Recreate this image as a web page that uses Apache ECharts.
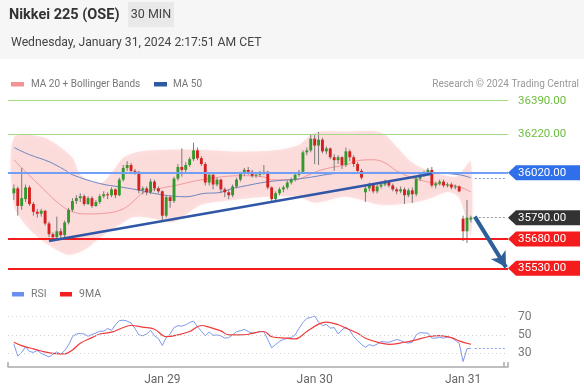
<!DOCTYPE html>
<html><head><meta charset="utf-8">
<script src="https://cdn.jsdelivr.net/npm/echarts@6/dist/echarts.min.js"></script>
<style>html,body{margin:0;padding:0;background:#fff}#c{width:584px;height:390px}</style>
</head><body><div id="c"></div>
<script>
const FONT = 'Roboto, "Liberation Sans", Arial, sans-serif';
const N_CAT = 128;
const dayTicks = [39, 78, 116];
const dayNames = ['Jan 29', 'Jan 30', 'Jan 31'];
const firstCandle = 1;
// [open, close, low, high]
const ohlc = [
[35915,35940,35880,35960],[35940,35850,35800,35950],[35850,35890,35830,36045],[35885,35945,35870,35960],[35945,35860,35850,35955],
[35860,35820,35800,35870],[35820,35810,35790,35835],[35810,35825,35795,35835],[35825,35760,35750,35830],[35760,35705,35690,35770],
[35705,35690,35672,35715],[35690,35720,35675,35795],[35720,35700,35680,35735],[35700,35765,35690,35775],[35765,35830,35755,35840],
[35830,35875,35820,35890],[35875,35890,35860,35905],[35890,35900,35870,35915],[35900,35860,35850,35910],[35860,35890,35855,35900],
[35890,35850,35840,35900],[35850,35870,35845,35880],[35870,35900,35860,35910],[35900,35910,35890,35925],[35910,35905,35885,35920],
[35905,35935,35895,35945],[35935,35905,35890,35940],[35905,35985,35900,35995],[35985,36045,35975,36060],[36045,36060,36030,36080],
[36060,36030,36015,36070],[36030,36025,36010,36040],[36025,35930,35915,36030],[35930,35940,35910,35950],[35940,35920,35905,35950],
[35920,35975,35910,35990],[35975,35940,35925,35985],[35940,35925,35915,35950],[35925,35800,35770,35930],[35800,35895,35790,35905],
[35895,35875,35840,35905],[35875,35990,35865,36000],[35990,36050,35980,36065],[36050,36035,36000,36145],[36035,36060,36020,36075],
[36060,36090,36050,36100],[36090,36135,36080,36175],[36135,36095,36085,36150],[36095,36065,36055,36105],[36065,35970,35955,36075],
[35970,36010,35955,36020],[36010,35960,35935,36020],[35960,35985,35950,35995],[35985,35935,35915,35990],[35935,35920,35895,35945],
[35920,35905,35885,35935],[35905,35950,35895,35960],[35950,35985,35940,35995],[35985,36015,35975,36025],[36015,36035,36005,36045],
[36035,36025,36010,36050],[36025,36005,35995,36035],[36005,36010,35995,36020],[36010,36020,36000,36030],[36020,36025,36010,36060],
[36025,35945,35935,36030],[35945,35885,35865,35950],[35885,35915,35875,35925],[35915,35935,35905,35945],[35935,35945,35920,35955],
[35945,35970,35935,35980],[35970,35985,35960,35995],[35985,36010,35975,36020],[36010,36025,36000,36035],[36025,36125,36015,36135],
[36125,36135,36110,36150],[36135,36195,36125,36215],[36195,36160,36065,36215],[36160,36190,36060,36230],[36190,36130,36120,36200],
[36130,36145,36115,36155],[36145,36100,36090,36150],[36100,36085,36030,36115],[36085,36100,36065,36110],[36100,36060,36040,36105],
[36060,36130,36050,36150],[36130,36100,36080,36140],[36100,36065,36050,36110],[36065,36030,36020,36075],[36030,35995,35985,36040],
[35920,35940,35870,35950],[35940,35960,35925,35970],[35960,35925,35915,35965],[35925,35950,35915,35960],[35950,35960,35940,35970],
[35960,35975,35950,35985],[35975,35955,35945,35980],[35955,35935,35925,35965],[35935,35925,35910,35945],[35925,35935,35915,35950],
[35935,35905,35860,35945],[35905,35930,35895,35940],[35930,35910,35865,35945],[35910,35990,35900,36000],[35990,36010,35980,36020],
[36010,36020,36000,36030],[36020,36035,36010,36045],[36035,35955,35945,36050],[35955,35965,35940,35975],[35965,35975,35955,35985],
[35975,35955,35945,35985],[35955,35960,35945,35970],[35960,35945,35935,35970],[35945,35950,35935,35960],[35950,35925,35920,35955],
[35785,35720,35670,35800],[35720,35790,35660,35880],[35780,35790,35765,35800]
];
const ma20 = [[1,36087],[4,36025],[8,35948],[12,35871],[16,35820],[20,35809],[25,35814],[29,35835],[32,35881],[34,35917],[38,35938],[43,35958],[49,35984],[59,36005],[65,35999],[67,35984],[73,35984],[76,36005],[79,36030],[82,36046],[86,36061],[89,36082],[93,36087],[96,36071],[99,36030],[103,35994],[108,35969],[112,35958],[115,35948],[118,35922]];
const ma50 = [[1,36150],[5,36113],[10,36077],[14,36035],[16,36010],[23,35965],[28,35948],[32,35935],[39,35907],[45,35897],[50,35915],[53,35917],[57,35940],[59,35948],[66,35974],[74,35989],[86,36020],[95,36022],[108,36020],[115,36010],[118,35994]];
const bbUpper = [[1,36200],[8,36205],[12,36164],[16,36097],[18,36010],[22,35969],[24,35974],[27,36046],[29,36097],[33,36128],[41,36138],[49,36138],[59,36128],[69,36138],[74,36164],[78,36226],[86,36231],[95,36226],[99,36154],[103,36071],[108,36025],[114,35999],[116,36035],[118,36077]];
const bbLower = [[1,35856],[4,35753],[8,35676],[12,35624],[15,35599],[19,35624],[23,35686],[28,35753],[32,35794],[39,35778],[42,35768],[49,35856],[57,35881],[66,35897],[74,35897],[78,35866],[86,35897],[95,35856],[103,35866],[108,35892],[112,35922],[115,35892],[118,35701]];
const rsi = [40,27,31,37,32,31,33,30,28,26, 29,31.5,29,33,39,48,51,51.5,51,48.5, 50.5,52,54,54,57,55,61,65.5,66,65,
 63,57,50,49,51,55,49,46,38.5,47, 51,58,60,59.5,61,63.5,65,59,54,49, 53,49.5,50,49,46.5,47,50,53.5,54.5,56,
 53.7,52,52.5,53.7,53.5,45,36,39.5,43,45, 46.4,47,50,57,63.5,68,69,70.5,64,60, 61.5,57.3,58,51,55.5,58.5,55,48,44,39.5,
 36.5,39.5,38,40,42.7,42.3,42,43.5,45,44, 42,41,42,50,52.5,52,52,46.5,46.5,47.5, 46.4,47.8,47,44,41,21,35,35.5];
const rsiMA = [[1,42],[3,38.4],[5,36],[8,32.5],[11,30],[14,29.3],[16,33.6],[18,40.9],[21,47],[23,51],[26,53],[29,58],[31,60.2],[34,58.4],[37,56.2],[40,48.2],[43,50],[46,53.7],[49,60.2],[51,58.4],[54,54.4],[56,50],[59,50],[61,50.7],[65,53.7],[67,48],[71,46.4],[73,45.6],[76,53.7],[79,61.7],[81,63.9],[84,61],[86,57.3],[89,51.8],[91,46.4],[95,41],[97,39.8],[101,42],[104,44.6],[107,48],[110,49.3],[113,47.1],[115,43.5],[118,39.8]];
const rsiLevels = [70, 50, 30];
const levelValues = [36390, 36220, 36020, 35790, 35680, 35530];
const trendLine = [[10,35670],[108,36015]];
const arrowLine = [[119,35795],[127,35535]];
const lastPriceExt = [[119,35790],[127,35790]];
const ma50Ext = [[119,35994],[127,35994]];
const rsiExt = [[119,35.5],[127,35.5]];

const categories = Array.from({length:N_CAT}, (_, i) => { const k = dayTicks.indexOf(i); return k >= 0 ? dayNames[k] : ''; });
const levelLook = [
  {line:'#a5d884', w:1, box:null, text:'#6dbd3f'},
  {line:'#a5d884', w:1, box:null, text:'#6dbd3f'},
  {line:'#729ff3', w:2, box:'#2f6fea', text:'#ffffff'},
  {line:null, w:0, box:'#333333', text:'#ffffff'},
  {line:'#f41c1c', w:2, box:'#f41c1c', text:'#ffffff'},
  {line:'#f41c1c', w:2, box:'#f41c1c', text:'#ffffff'}
];

const chart = echarts.init(document.getElementById('c'), null, {renderer:'canvas'});
function lineMark(pts, lineStyle, symbol, symbolSize){
  return [{coord: pts[0], lineStyle: lineStyle, symbol: symbol ? symbol[0] : 'none'}, {coord: pts[1], symbol: symbol ? symbol[1] : 'none', symbolSize: symbolSize}];
}

const option = {
  animation: false,
  backgroundColor: '#ffffff',
  textStyle: {fontFamily: FONT},
  grid: [
    {left: 8, top: 89, width: 500, height: 191},
    {left: 8, top: 307.3, width: 500, height: 59.8}
  ],
  xAxis: [
    {type:'category', gridIndex:0, data:categories, boundaryGap:true, show:false},
    {type:'category', gridIndex:1, data:categories, boundaryGap:true,
     axisLine:{show:true, lineStyle:{color:'#aaaaaa', width:1.5}},
     axisTick:{show:true, inside:true, length:5, interval:N_CAT-1, lineStyle:{color:'#aaaaaa', width:1.5}},
     axisLabel:{interval:0, color:'#666', fontSize:12, fontFamily:FONT, margin:7},
     splitLine:{show:false}}
  ],
  yAxis: [
    {type:'value', gridIndex:0, min:35470, max:36450, show:false, splitLine:{show:false}},
    {type:'value', gridIndex:1, min:15, max:80, show:false, splitLine:{show:false}}
  ],
  graphic: [
    {type:'rect', shape:{x:0, y:0, width:584, height:59}, style:{fill:'#f6f6f6'}, z:0, silent:true},
    {type:'rect', shape:{x:128, y:2, width:46, height:25}, style:{fill:'#e9e9e9'}, z:1},
    {type:'text', x:151, y:15, style:{text:'30 MIN', fill:'#444', font:'12.5px '+FONT, align:'center', verticalAlign:'middle'}, z:2},
    {type:'text', x:9, y:15, style:{text:'Nikkei 225 (OSE)', fill:'#333', font:'bold 14.5px '+FONT, verticalAlign:'middle'}, z:2},
    {type:'text', x:11, y:43, style:{text:'Wednesday, January 31, 2024 2:17:51 AM CET', fill:'#444', font:'12.2px '+FONT, verticalAlign:'middle'}, z:2},
    {type:'rect', shape:{x:11, y:82, width:13, height:4.5}, style:{fill:'#f39393'}},
    {type:'text', x:31, y:84.5, style:{text:'MA 20 + Bollinger Bands', fill:'#777', font:'10px '+FONT, verticalAlign:'middle'}},
    {type:'rect', shape:{x:154, y:82, width:13, height:4.5}, style:{fill:'#2d5aa5'}},
    {type:'text', x:173, y:84.5, style:{text:'MA 50', fill:'#777', font:'10px '+FONT, verticalAlign:'middle'}},
    {type:'text', x:579, y:84.5, style:{text:'Research \u00a9 2024 Trading Central', fill:'#999', font:'10px '+FONT, align:'right', verticalAlign:'middle'}},
    {type:'rect', shape:{x:12, y:292, width:12, height:4.5}, style:{fill:'#6b8ff0'}},
    {type:'text', x:31, y:294.5, style:{text:'RSI', fill:'#777', font:'10.5px '+FONT, verticalAlign:'middle'}},
    {type:'rect', shape:{x:60, y:292, width:12, height:4.5}, style:{fill:'#f42020'}},
    {type:'text', x:79, y:294.5, style:{text:'9MA', fill:'#777', font:'10.5px '+FONT, verticalAlign:'middle'}}
  ],
  series: [
    { // Bollinger band area
      type:'custom', xAxisIndex:0, yAxisIndex:0, z:1, silent:true, clip:false,
      data:[[0, 36000]],
      renderItem(params, api){
        const pts = bbUpper.map(p => api.coord(p)).concat(bbLower.slice().reverse().map(p => api.coord(p)));
        return {type:'polygon', shape:{points:pts, smooth:0.3},
          style:{fill:'rgba(246,150,150,0.27)', shadowBlur:5, shadowColor:'rgba(246,150,150,0.35)'}};
      }
    },
    { // level lines
      type:'line', xAxisIndex:0, yAxisIndex:0, data:[], z:2, silent:true,
      markLine:{silent:true, symbol:['none','none'], label:{show:false}, animation:false,
        data: levelValues.map((v,k) => levelLook[k].line ? {yAxis:v, lineStyle:{color:levelLook[k].line, width:levelLook[k].w, type:'solid'}} : null).filter(Boolean)
          .concat([lineMark(lastPriceExt, {color:'#999', width:1, type:[2,2]})])}
    },
    {name:'MA 20', type:'line', xAxisIndex:0, yAxisIndex:0, data:ma20, smooth:0.4, showSymbol:false, symbol:'none', z:3,
      lineStyle:{color:'#f29a9a', width:1}},
    {name:'MA 50', type:'line', xAxisIndex:0, yAxisIndex:0, data:ma50, smooth:0.4, showSymbol:false, symbol:'none', z:3,
      lineStyle:{color:'#6f86c2', width:1},
      markLine:{silent:true, symbol:['none','none'], label:{show:false}, data:[lineMark(ma50Ext, {color:'#7f9ad6', width:1, type:[2,2]})]}},
    { // candles
      type:'custom', xAxisIndex:0, yAxisIndex:0, z:4, clip:false,
      data: ohlc.map((c,k) => [k + firstCandle, c[0], c[1], c[2], c[3]]),
      encode:{x:0, y:[1,2,3,4]},
      renderItem(params, api){
        const i = api.value(0), o = api.value(1), c = api.value(2), l = api.value(3), h = api.value(4);
        const pO = api.coord([i,o]), pC = api.coord([i,c]), pL = api.coord([i,l]), pH = api.coord([i,h]);
        const w = api.size([1,0])[0] * 0.74;
        const top = Math.min(pO[1], pC[1]);
        const hh = Math.max(1, Math.abs(pO[1]-pC[1]));
        const up = c >= o;
        return {type:'group', children:[
          {type:'line', shape:{x1:pO[0], y1:pH[1], x2:pO[0], y2:pL[1]}, style:{stroke:'#7a7a7a', lineWidth:1}},
          {type:'rect', shape:{x:pO[0]-w/2, y:top, width:w, height:hh}, style:{fill: up ? '#33992d' : '#d4211f'}}
        ]};
      }
    },
    { // trend line and arrow
      type:'line', xAxisIndex:0, yAxisIndex:0, data:[], z:6, silent:true,
      markLine:{silent:true, label:{show:false}, animation:false,
        data:[
          lineMark(trendLine, {color:'#3057a6', width:2.5, type:'solid'}),
          lineMark(arrowLine, {color:'#2e5f98', width:4, type:'solid'}, ['none','arrow'], [13,15])
        ]}
    },
    { // level labels on the right
      type:'custom', xAxisIndex:0, yAxisIndex:0, z:7, clip:false, silent:true,
      data: levelValues.map(v => [0, v]),
      renderItem(params, api){
        const v = api.value(1);
        const y = api.coord([0, v])[1];
        const x0 = params.coordSys.x + params.coordSys.width;
        const look = levelLook[params.dataIndex];
        const kids = [];
        if (look.box) kids.push({type:'polygon', shape:{points:[[x0,y],[x0+8,y-7.5],[x0+72,y-7.5],[x0+72,y+7.5],[x0+8,y+7.5]]}, style:{fill:look.box}});
        kids.push({type:'text', x:x0+10, y:y, style:{text:v.toFixed(2), fill:look.text, font:'11.5px '+FONT, verticalAlign:'middle'}});
        return {type:'group', children:kids};
      }
    },
    {name:'RSI', type:'line', xAxisIndex:1, yAxisIndex:1, data: rsi.map((v,k) => [k + firstCandle, v]), showSymbol:false, symbol:'none', z:3,
      lineStyle:{color:'#7e98ee', width:1},
      markLine:{silent:true, symbol:['none','none'], animation:false,
        data:[
          ...rsiLevels.map(v => ({yAxis:v, lineStyle:{color:'#cfcfcf', width:1, type:[1,3]},
            label:{show:true, position:'end', distance:10, formatter:String(v), color:'#777', fontSize:12, fontFamily:FONT}})),
          lineMark(rsiExt, {color:'#8aa2ee', width:1, type:[2,2]}).map((p,k) => k===0 ? Object.assign(p, {label:{show:false}}) : p)
        ]}},
    {name:'9MA', type:'line', xAxisIndex:1, yAxisIndex:1, data: rsiMA, smooth:0.4, showSymbol:false, symbol:'none', z:4,
      lineStyle:{color:'#f03a3a', width:1.2}}
  ]
};
chart.setOption(option);
</script>
</body></html>
